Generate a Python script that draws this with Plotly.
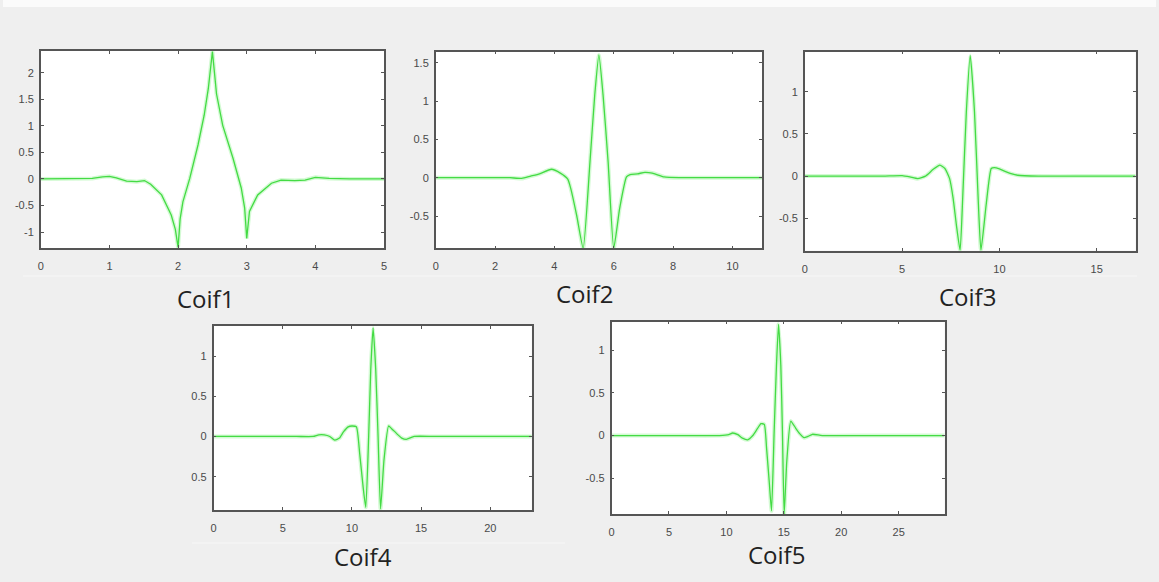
import plotly.graph_objects as go

# ---- data ----
names = ["Coif1", "Coif2", "Coif3", "Coif4", "Coif5"]

x1 = [0, 0.5, 0.75, 0.9, 1.0, 1.1, 1.25, 1.4, 1.51, 1.6, 1.76, 1.9, 1.96, 2.0, 2.03, 2.07, 2.17,
      2.29, 2.38, 2.44, 2.5, 2.56, 2.65, 2.8, 2.92, 2.97, 3.0, 3.04, 3.16, 3.36, 3.5, 3.7, 3.85,
      4.0, 4.2, 4.5, 5.0]
y1 = [0, 0, 0.01, 0.04, 0.05, 0.02, -0.04, -0.05, -0.03, -0.1, -0.30, -0.68, -0.95, -1.29, -0.75,
      -0.43, 0.01, 0.64, 1.2, 1.7, 2.4, 1.6, 1.01, 0.39, -0.17, -0.55, -1.12, -0.61, -0.30, -0.08,
      -0.02, -0.03, -0.02, 0.03, 0.01, 0, 0]

x2 = [0, 1, 2, 2.5, 2.9, 3.2, 3.5, 3.9, 4.2, 4.45, 4.55, 4.75, 4.97, 5.2, 5.36, 5.5, 5.64, 5.81,
      6.0, 6.2, 6.43, 6.55, 6.8, 7.05, 7.3, 7.7, 8.2, 9, 10, 11]
y2 = [0, 0, 0, 0, -0.01, 0.02, 0.05, 0.11, 0.06, -0.02, -0.14, -0.49, -0.92, 0.21, 1.08, 1.6,
      1.08, 0.21, -0.92, -0.40, 0.01, 0.04, 0.05, 0.07, 0.06, 0.01, 0, 0, 0, 0]

x3 = [0, 2, 4, 5, 5.4, 5.8, 6.2, 6.6, 6.94, 7.2, 7.44, 7.62, 7.79, 7.98, 8.12, 8.3, 8.5, 8.72,
      8.9, 9.05, 9.32, 9.58, 9.74, 10.0, 10.26, 10.6, 10.94, 12, 14, 17]
y3 = [0, 0, 0, 0.005, -0.01, -0.03, 0.0, 0.08, 0.13, 0.09, -0.03, -0.26, -0.58, -0.88, -0.22,
      0.76, 1.43, 0.76, -0.22, -0.88, -0.34, 0.09, 0.10, 0.085, 0.06, 0.03, 0.01, 0, 0, 0]

x4 = [0, 3, 6, 7.2, 7.6, 8.0, 8.4, 8.76, 9.1, 9.4, 9.73, 10.0, 10.32, 10.56, 10.81, 11.0, 11.21,
      11.36, 11.53, 11.72, 11.89, 12.07, 12.32, 12.65, 12.85, 13.1, 13.33, 13.6, 13.93, 14.5, 16, 23]
y4 = [0, 0, 0, 0, 0.02, 0.02, 0.0, -0.045, -0.02, 0.06, 0.12, 0.13, 0.12, -0.21, -0.63, -0.88,
      0.0, 0.83, 1.35, 0.83, 0.0, -0.9, -0.29, 0.13, 0.10, 0.06, 0.02, -0.02, -0.036, 0, 0, 0]

x5 = [0, 5, 9.4, 10.2, 10.55, 11.0, 11.4, 11.85, 12.3, 12.7, 13.01, 13.3, 13.5, 13.73, 13.93,
      14.16, 14.36, 14.54, 14.74, 14.88, 15.03, 15.26, 15.61, 16.04, 16.4, 16.77, 17.1, 17.49,
      18.35, 22, 29]
y5 = [0, 0, 0, 0.01, 0.03, 0.01, -0.03, -0.05, 0.0, 0.08, 0.14, 0.13, -0.15, -0.54, -0.88, 0.05,
      0.82, 1.30, 0.82, 0.05, -0.92, -0.30, 0.17, 0.085, 0.02, -0.025, -0.01, 0.015, 0, 0, 0]

x_ranges = [[0, 5], [0, 11], [0, 17], [0, 23], [0, 29]]
y_ranges = [[-1.3, 2.41], [-0.921, 1.643], [-0.884, 1.474], [-0.914, 1.373], [-0.917, 1.331]]
x_ticks = [[0, 1, 2, 3, 4, 5], [0, 2, 4, 6, 8, 10], [0, 5, 10, 15], [0, 5, 10, 15, 20],
           [0, 5, 10, 15, 20, 25]]
y_ticks = [[-1, -0.5, 0, 0.5, 1, 1.5, 2], [-0.5, 0, 0.5, 1, 1.5], [-0.5, 0, 0.5, 1],
           [-0.5, 0, 0.5, 1], [-0.5, 0, 0.5, 1]]
y_ticktext = [["-1", "-0.5", "0", "0.5", "1", "1.5", "2"], ["-0.5", "0", "0.5", "1", "1.5"],
              ["-0.5", "0", "0.5", "1"], ["0.5", "0", "0.5", "1"], ["-0.5", "0", "0.5", "1"]]

xs = [x1, x2, x3, x4, x5]
ys = [y1, y2, y3, y4, y5]

# ---- layout geometry (pixels of a 1159x582 page) ----
W, H = 1159, 582
boxes = [(38, 383, 51, 248), (435, 763, 51.7, 248.3), (806, 1138.5, 51.7, 250.7),
         (211.7, 531.5, 326, 510), (611.7, 946.5, 321.7, 514)]
label_pos = [(204, 298), (585, 293), (970, 296), (362, 556), (778, 554)]

fig = go.Figure()
layout = dict(width=W, height=H, margin=dict(l=0, r=0, t=0, b=0),
              paper_bgcolor="#efefef", plot_bgcolor="#ffffff", showlegend=False)

tickfont = dict(family="Liberation Sans, Arial, sans-serif", size=11, color="#4a4a4a")
for i in range(5):
    k = "" if i == 0 else str(i + 1)
    x0, x1p, y0, y1p = boxes[i]
    shape = "linear" if i == 0 else "spline"
    # soft glow
    fig.add_trace(go.Scatter(x=xs[i], y=ys[i], mode="lines", xaxis="x" + k, yaxis="y" + k,
                             line=dict(color="rgba(130,240,130,0.35)", width=4,
                                       shape=shape, smoothing=0.5),
                             hoverinfo="skip"))
    fig.add_trace(go.Scatter(x=xs[i], y=ys[i], mode="lines", xaxis="x" + k, yaxis="y" + k,
                             line=dict(color="#44db44", width=1.3, shape=shape, smoothing=0.5),
                             name=names[i]))
    common = dict(showline=True, linecolor="#555555", linewidth=1.5, mirror="allticks",
                  ticks="inside", ticklen=3, tickcolor="#555555", showgrid=False,
                  zeroline=False, tickfont=tickfont, fixedrange=True)
    layout["xaxis" + k] = dict(common, domain=[x0 / W, x1p / W], range=x_ranges[i],
                               tickvals=x_ticks[i], anchor="y" + k, ticklabelstandoff=7)
    layout["yaxis" + k] = dict(common, domain=[1 - y1p / H, 1 - y0 / H], range=y_ranges[i],
                               tickvals=y_ticks[i], ticktext=y_ticktext[i], anchor="x" + k,
                               ticklabelstandoff=3)

annotations = []
for i in range(5):
    cx, cy = label_pos[i]
    annotations.append(dict(text=names[i], x=cx / W, y=1 - cy / H, xref="paper", yref="paper",
                            xanchor="center", yanchor="middle", showarrow=False,
                            font=dict(family="Open Sans, sans-serif", size=24, color="#222222")))
layout["annotations"] = annotations
layout["shapes"] = [
    dict(type="rect", xref="paper", yref="paper", x0=0, x1=1, y0=1 - 7 / H, y1=1,
         fillcolor="#fbfbfb", line=dict(width=0), layer="below"),
    dict(type="line", xref="paper", yref="paper", x0=20 / W, x1=1140 / W, y0=1 - 276 / H,
         y1=1 - 276 / H, line=dict(color="#f7f7f7", width=1), layer="below"),
    dict(type="line", xref="paper", yref="paper", x0=190 / W, x1=565 / W, y0=1 - 543 / H,
         y1=1 - 543 / H, line=dict(color="#f7f7f7", width=1), layer="below"),
]
fig.update_layout(layout)
fig.write_html("out.html")
